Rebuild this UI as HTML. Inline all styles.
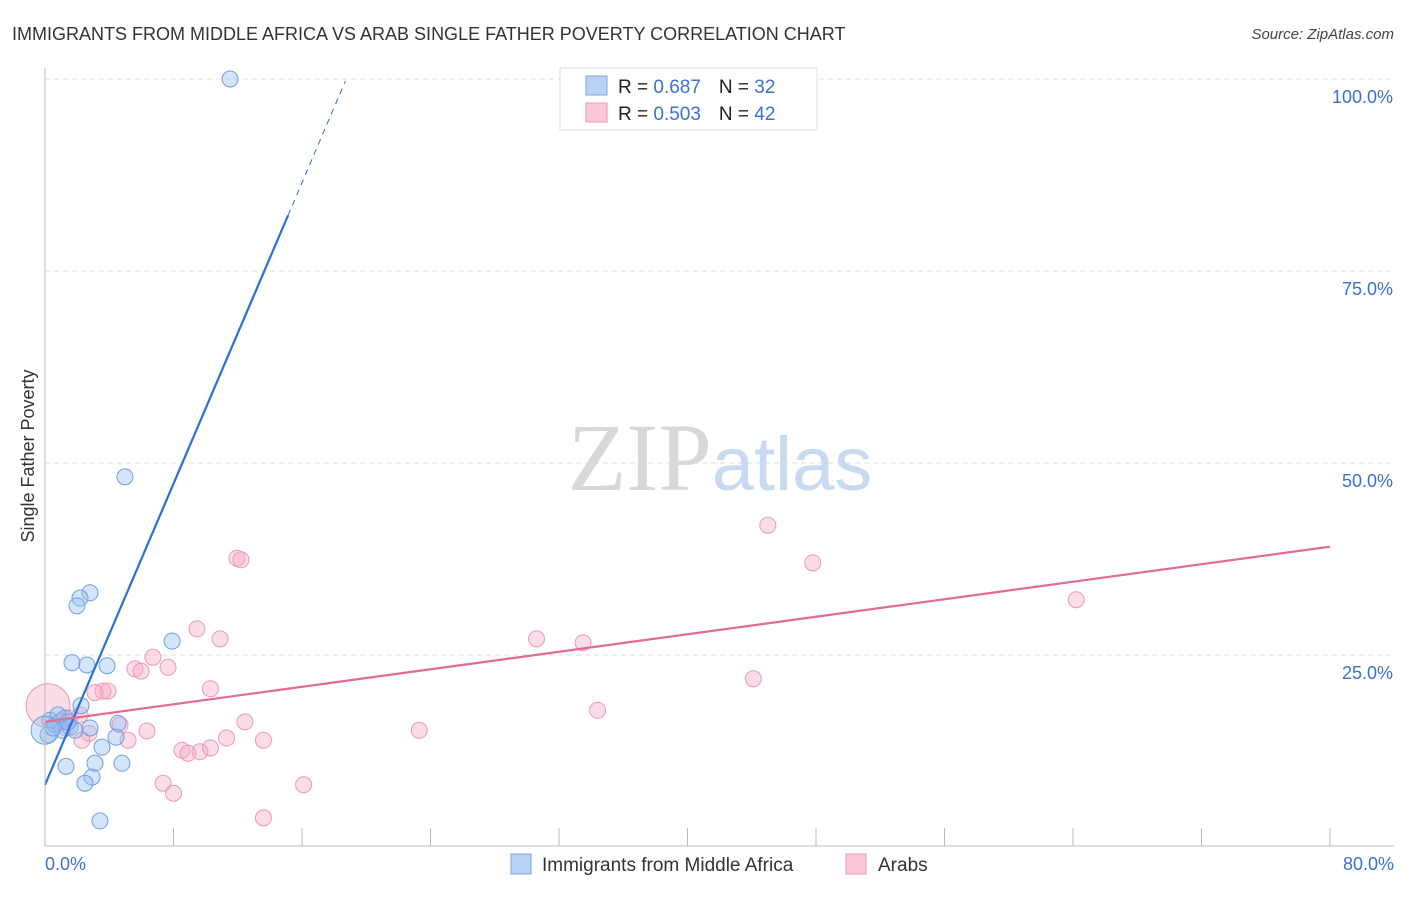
<!DOCTYPE html>
<html><head><meta charset="utf-8"><style>
body{margin:0;background:#fff;font-family:"Liberation Sans",sans-serif}
svg text{font-family:"Liberation Sans",sans-serif}
</style></head><body>
<svg id="chart" width="1406" height="892" viewBox="0 0 1406 892">
<text x="12" y="40" font-size="18" fill="#333">IMMIGRANTS FROM MIDDLE AFRICA VS ARAB SINGLE FATHER POVERTY CORRELATION CHART</text>
<text x="1394" y="39" font-size="15" fill="#444" text-anchor="end" font-style="italic">Source: ZipAtlas.com</text>
<text x="720" y="490" font-size="96" text-anchor="middle"><tspan font-family="Liberation Serif" fill="#d8d8d8">ZIP</tspan><tspan fill="#c8daf0" font-size="76">atlas</tspan></text>
<text transform="translate(34,456) rotate(-90)" font-size="18" fill="#333" text-anchor="middle">Single Father Poverty</text>
<g id="grid"></g><g id="pts"></g><g id="lines"></g>
<line x1="45" y1="68" x2="45" y2="846" stroke="#bbb"/>
<line x1="45" y1="846" x2="1394" y2="846" stroke="#bbb"/>
<text x="45" y="870" font-size="18" fill="#3a72d0">0.0%</text>
<text x="1394" y="870" font-size="18" fill="#3a72d0" text-anchor="end">80.0%</text>
<g>
<rect x="560" y="68" width="257" height="62" fill="#fff" stroke="#ddd"/>
<rect x="586" y="76" width="21" height="19" fill="#b8d2f5" stroke="#7ea6e0"/>
<rect x="586" y="103" width="21" height="19" fill="#fac8d7" stroke="#ee9ab5"/>
<text x="618" y="93" font-size="19" fill="#222">R = <tspan fill="#3a72d0">0.687</tspan><tspan dx="18">N = </tspan><tspan fill="#3a72d0">32</tspan></text>
<text x="618" y="120" font-size="19" fill="#222">R = <tspan fill="#3a72d0">0.503</tspan><tspan dx="18">N = </tspan><tspan fill="#3a72d0">42</tspan></text>
</g>
<g>
<rect x="511" y="854" width="20" height="20" fill="#b8d2f5" stroke="#7ea6e0"/>
<text x="542" y="871" font-size="19" fill="#333">Immigrants from Middle Africa</text>
<rect x="846" y="854" width="20" height="20" fill="#fac8d7" stroke="#ee9ab5"/>
<text x="878" y="871" font-size="19" fill="#333">Arabs</text>
</g>
</svg>
<script>
const yTicks=[25,50,75,100];
const yTickLabels=["25.0%","50.0%","75.0%","100.0%"];
const xTicks=[0,8,16,24,32,40,48,56,64,72,80];
const blueX=[11.52,4.98,2.80,2.18,1.99,7.91,1.68,2.61,3.86,2.24,4.55,4.42,3.55,1.31,3.11,4.79,2.93,2.49,3.42,0.31,0.62,0.93,1.25,1.56,1.87,1.06,0.81,0.19,0.0,1.43,0.5,2.80];
const blueY=[100,48.2,33.1,32.4,31.4,26.8,24.0,23.7,23.6,18.4,16.1,14.3,13.0,10.5,10.9,10.9,9.1,8.3,3.4,16.5,15.9,16.3,16.8,15.6,15.2,15.2,17.2,14.6,15.2,16.3,15.5,15.5];
const pinkX=[45.0,47.8,64.2,30.6,33.5,44.1,34.4,23.3,11.95,12.2,9.46,10.9,6.72,7.66,5.60,5.98,10.3,3.61,3.92,3.11,12.45,4.67,6.35,11.3,13.6,5.17,2.74,2.30,8.53,8.9,9.65,10.3,7.35,8.0,16.1,13.6,0.19,1.06,1.56,0.62,2.18,1.31];
const pinkY=[41.9,37.0,32.2,27.1,26.6,21.9,17.8,15.2,37.6,37.4,28.4,27.1,24.7,23.4,23.2,22.9,20.6,20.3,20.3,20.1,16.3,15.9,15.1,14.2,13.9,13.9,14.8,13.9,12.6,12.2,12.4,12.9,8.3,7.0,8.1,3.8,18.4,16.5,16.8,15.9,17.2,15.5];
const blueTrend=[8.1,4.9]; // intercept, slope
const pinkTrend=[16.3,0.285];
const X=v=>45+v/80*1285, Y=v=>847-v/25*192;
const NS="http://www.w3.org/2000/svg";
function mk(t,a,p){const e=document.createElementNS(NS,t);for(const k in a)e.setAttribute(k,a[k]);p.appendChild(e);return e;}
const grid=document.getElementById('grid');
yTicks.forEach((t,i)=>{
 const l=mk('line',{x1:45,x2:1394,y1:Y(t),y2:Y(t),stroke:'#ddd','stroke-dasharray':'5,4'},grid);
 
 
 const tx=mk('text',{x:1393,y:Y(t)+24,'font-size':18,fill:'#3a72d0','text-anchor':'end'},grid);
 tx.textContent=yTickLabels[i];
 
 
});
xTicks.forEach(t=>{
 const l=mk('line',{x1:X(t),x2:X(t),y1:828,y2:846,stroke:'#bbb'},grid);
 
 
});
const pts=document.getElementById('pts');
pinkX.forEach((x,i)=>{
 const c=mk('circle',{cx:X(x),cy:Y(pinkY[i]),r:i==36?22:8,fill:'rgba(246,170,195,0.4)',stroke:'#ec9ab4','stroke-width':1},pts);
 
 
});
blueX.forEach((x,i)=>{
 const c=mk('circle',{cx:X(x),cy:Y(blueY[i]),r:i==28?14:8,fill:'rgba(150,190,240,0.4)',stroke:'#6f9fe0','stroke-width':1},pts);
 
 
});
const lines=document.getElementById('lines');
const bx1=15.13,bx2=18.7;
let l=mk('line',{x1:X(0),y1:Y(blueTrend[0]),x2:X(bx1),y2:Y(blueTrend[0]+blueTrend[1]*bx1),stroke:'#2d6fd6','stroke-width':2.2},lines);


l=mk('line',{x1:X(bx1),y1:Y(blueTrend[0]+blueTrend[1]*bx1),x2:X(bx2),y2:Y(blueTrend[0]+blueTrend[1]*bx2),stroke:'#2d6fd6','stroke-width':1,'stroke-dasharray':'6,5'},lines);


l=mk('line',{x1:X(0),y1:Y(pinkTrend[0]),x2:X(80),y2:Y(pinkTrend[0]+pinkTrend[1]*80),stroke:'#e46a94','stroke-width':2.2},lines);


</script>
</body></html>
